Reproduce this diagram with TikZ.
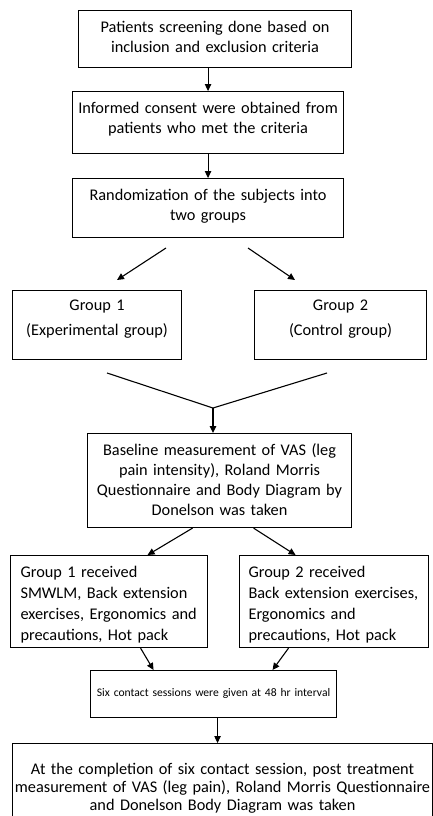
\documentclass[tikz,border=0pt]{standalone}
\usepackage{fontspec}
\setmainfont{Carlito}
\usetikzlibrary{arrows.meta}

\begin{document}
\begin{tikzpicture}[
                x=1pt,y=-1pt,
                line width=1.1pt,
                >={Triangle[length=7pt,width=6.5pt]},
                stepbox/.style={draw,anchor=north west,inner xsep=0pt,inner ysep=0pt,
                  align=center,text height=22pt,font=\fontsize{16.3}{20}\selectfont},
                listbox/.style={stepbox,align=left,font=\fontsize{16.3}{21}\selectfont}] %

\useasboundingbox (0,0) rectangle (433,816);

% screening
                    % 1
                    \node[stepbox,text width=273pt,text depth=35pt] (screen) at (78,10) {Patients screening done based on\\inclusion and exclusion criteria}; % 1

                    % 2
                    \node[stepbox,text width=271pt,text depth=40pt] (consent) at (72,91) {Informed consent were obtained from\\patients who met the criteria}; % 2

                    % 3
                    \node[stepbox,text width=271pt,text depth=37pt] (random) at (72,178) {Randomization of the subjects into\\two groups}; % 3

                    \path [->] (consent.north |- screen.south) edge (consent.north);
                    \path [->] (consent.south) edge (random.north);

                    \coordinate (splitL) at (166,248);
                    \coordinate (splitLend) at (117,280);
                    \coordinate (splitR) at (248,248);
                    \coordinate (splitRend) at (295,280);
                    \path [->] (splitL) edge (splitLend);
                    \path [->] (splitR) edge (splitRend);

%%%%%%%%%%%%%%%%%%%%%%%%%%%%%%%%%%%%%%%%%%%%%%%%%%%%%%%%%%%%%%%%%%%%%%%%%%%%%%%%%%%%

% groups
                    \node[stepbox,text height=20pt,text width=169pt,text depth=49pt] (grpone) at (12,290) {Group 1\\[5pt](Experimental group)};
                    \node[stepbox,text height=20pt,text width=172pt,text depth=49pt] (grptwo) at (254,290) {Group 2\\[5pt](Control group)};

                    % 4
                    \node[stepbox,text width=264pt,text depth=72pt] (baseline) at (87,433) {Baseline measurement of VAS (leg\\pain intensity), Roland Morris\\Questionnaire and Body Diagram by\\Donelson was taken}; % 4

                    \coordinate (joinL) at (107,373);
                    \coordinate (joinR) at (327,373);
                    \coordinate (join) at (213,408);
                    \draw (joinL) -- (join) -- (joinR);
                    \path [->] (join) edge (join |- baseline.north);

                    % 5
                    \node[listbox,inner xsep=10pt,text width=177pt,text depth=70pt] (recvone) at (10,555) {Group 1 received\\SMWLM, Back extension\\exercises, Ergonomics and\\precautions, Hot pack};
                    \node[listbox,inner xsep=9pt,text width=171pt,text depth=70pt] (recvtwo) at (239,555) {Group 2 received\\Back extension exercises,\\Ergonomics and\\precautions, Hot pack};
                    \path [->] ([xshift=-27pt]baseline.south) edge ([xshift=38.5pt]recvone.north);
                    \path [->] ([xshift=34pt]baseline.south) edge ([xshift=-38.5pt]recvtwo.north);

                    % 6
                    \node[stepbox,font=\fontsize{11.6}{15}\selectfont,text height=26pt,text width=246pt,text depth=21pt] (sessions) at (90,670) {Six contact sessions were given at 48 hr interval}; % 6
                    \path [->] ([xshift=31.5pt]recvone.south) edge ([xshift=-60pt]sessions.north);
                    \path [->] ([xshift=-45.5pt]recvtwo.south) edge ([xshift=59pt]sessions.north);

                    % 7
                    \node[stepbox,font=\fontsize{16.3}{18}\selectfont,text height=31pt,text width=420pt,text depth=46pt] (final) at (12,743) {At the completion of six contact session, post treatment\\measurement of VAS (leg pain), Roland Morris Questionnaire\\and Donelson Body Diagram was taken}; % 7
                    \path [->] ([xshift=4pt]sessions.south) edge ([xshift=4pt]sessions.south |- final.north);

\end{tikzpicture}
\end{document}
